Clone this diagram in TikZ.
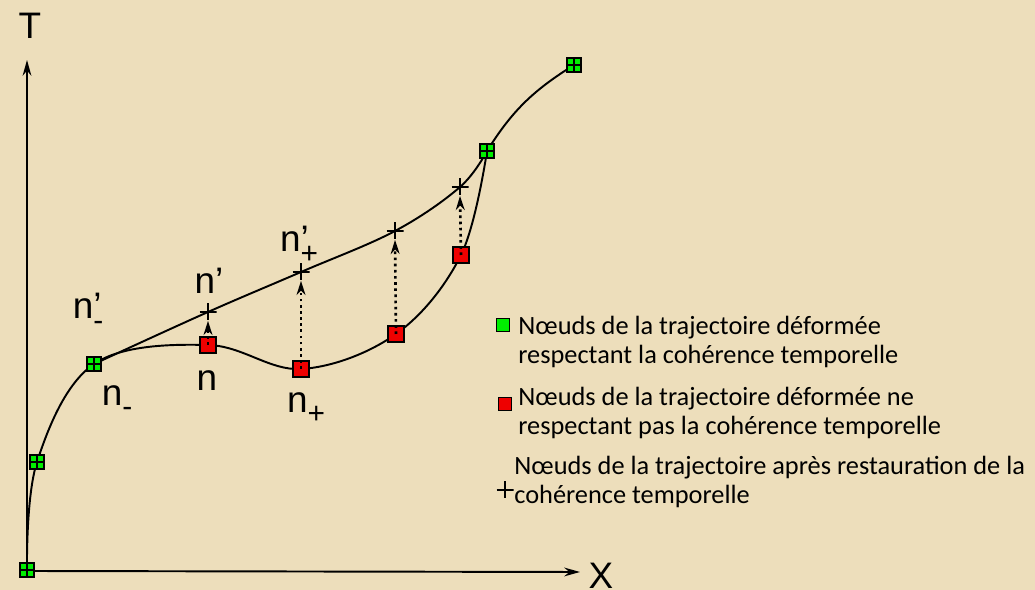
\documentclass[tikz,border=0pt]{standalone}
\usepackage{fontspec}
\setmainfont{Carlito}
\newfontfamily\labelfont{Liberation Sans}
\usetikzlibrary{arrows.meta}
\definecolor{parch}{RGB}{237,222,187}
\definecolor{okgreen}{RGB}{0,238,0}
\definecolor{badred}{RGB}{238,0,0}
\pgfdeclarelayer{curves}
\pgfsetlayers{curves,main}
\newcommand{\lsub}[1]{\raisebox{-0.32em}{\fontsize{17}{17}\selectfont #1}}

\begin{document}
\begin{tikzpicture}[
x=0.02cm, y=-0.02cm,
gnode/.style={draw, line width=1pt, fill=okgreen, inner sep=0, minimum size=0.28cm,
  path picture={\draw[line width=1pt] (path picture bounding box.north) -- (path picture bounding box.south)
    (path picture bounding box.west) -- (path picture bounding box.east);}},
rnode/.style={draw, line width=1pt, fill=badred, inner sep=0, minimum size=0.32cm},
pnode/.style={inner sep=0, minimum size=0.34cm,
  path picture={\draw[line width=1.1pt] (path picture bounding box.north) -- (path picture bounding box.south)
    (path picture bounding box.west) -- (path picture bounding box.east);}},
lbl/.style={font=\labelfont\fontsize{21}{21}\selectfont, inner sep=0},
legend/.style={font=\fontsize{15}{16.6}\selectfont, align=left, anchor=north west, inner sep=0},
axis/.style={line width=1.1pt, -{Stealth[length=9pt,width=5pt,inset=3pt]}},
traj/.style={line width=1.1pt},
restore/.style={dotted, line width=1.5pt, -{Stealth[length=8pt,width=5pt,inset=2.5pt]}}
]

% background
\useasboundingbox (0,0) rectangle (1035,590);

% axes
\coordinate (O) at (27,571);
\coordinate (ytip) at (27,60);
\coordinate (xtip) at (580,572);
\node[lbl] (T) at (30,26) {T};
\node[lbl] (X) at (601,576) {X};

% nodes respecting the temporal coherence
\node[gnode] (g0) at (27,570) {};
\node[gnode] (g1) at (37,462) {};
\node[gnode] (g2) at (94,364) {};
\node[gnode] (g3) at (487,151) {};
\node[gnode] (g4) at (574,65) {};

% nodes breaking it
\node[rnode] (r1) at (208,345) {};
\node[rnode] (r2) at (301,369) {};
\node[rnode] (r3) at (396,334) {};
\node[rnode] (r4) at (461,255) {};

% restored nodes
\node[pnode] (p1) at (208,312) {};
\node[pnode] (p2) at (301,272) {};
\node[pnode] (p3) at (395,231) {};
\node[pnode] (p4) at (460,187) {};

\begin{pgfonlayer}{curves}
\fill[parch] (0,0) rectangle (1035,590);
\draw[axis] (O) -- (ytip);
\draw[axis] (O) -- (xtip);
\draw[traj] plot[smooth, tension=0.6] coordinates {(g0) (g1) (g2) (r1) (r2) (r3) (r4) (g3)};
\draw[traj] plot[smooth, tension=0.6] coordinates {(g2) (p1) (p2) (p3) (p4) (g3)};
\draw[traj] (g3.center) to[out=58, in=212] (g4.center);
\end{pgfonlayer}

\draw[restore] (r1.center) -- (p1.south);
\draw[restore] (r2.center) -- (p2.south);
\draw[restore] (r3.center) -- (p3.south);
\draw[restore] (r4.center) -- (p4.south);

% labels
\node[lbl] (lnmp) at (88,312) {n\rlap{’}\lsub{-}};
\node[lbl] (lnp) at (209,281) {n’};
\node[lbl] (lnpp) at (299,245) {n\rlap{’}\lsub{+}};
\node[lbl] (ln) at (207,381) {n};
\node[lbl] (lnm) at (117,401) {n\lsub{-}};
\node[lbl] (lnpl) at (306,408) {n\lsub{+}};

% legend
\node[gnode, path picture={}, minimum size=0.26cm] (kg) at (503,325) {};
\node[rnode, minimum size=0.26cm] (kr) at (505,404) {};
\node[pnode] (kp) at (505,490) {};
\node[legend] (leg1) at (518,316) {Nœuds de la trajectoire déformée\\respectant la cohérence temporelle};
\node[legend] (leg2) at (518,387) {Nœuds de la trajectoire déformée ne\\respectant pas la cohérence temporelle};
\node[legend] (leg3) at (514,456) {Nœuds de la trajectoire après restauration de la\\cohérence temporelle};

\end{tikzpicture}
\end{document}
